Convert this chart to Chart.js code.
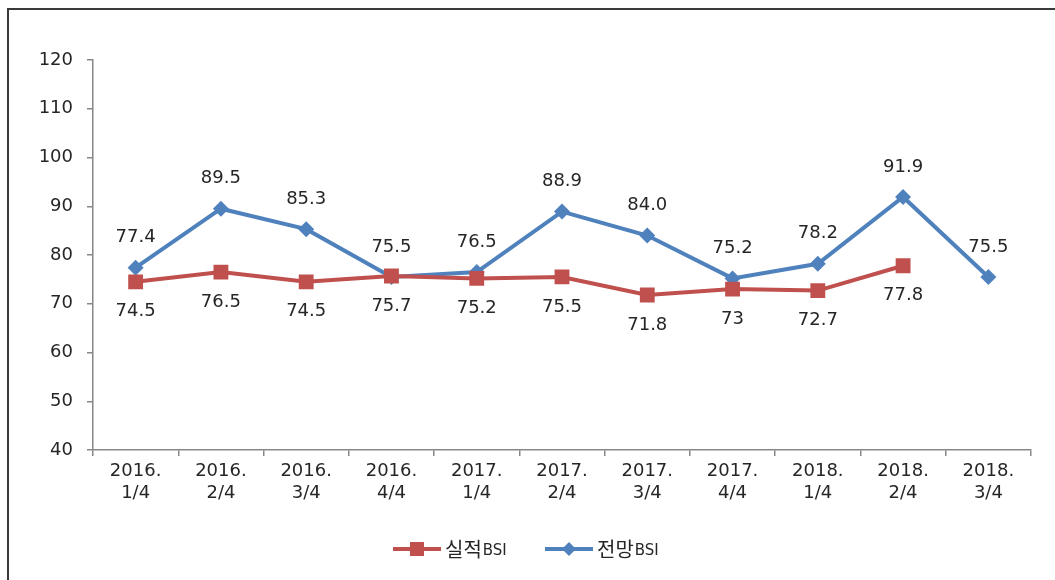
<!DOCTYPE html>
<html><head><meta charset="utf-8">
<script src="https://cdn.jsdelivr.net/npm/chart.js@4"></script>
<style>html,body{margin:0;padding:0;background:#fff;}#wrap{width:1055px;height:580px;position:relative;}</style>
</head><body><div id="wrap"><canvas id="c" width="1055" height="580"></canvas></div>
<script>
const categories = [["2016.","1/4"],["2016.","2/4"],["2016.","3/4"],["2016.","4/4"],["2017.","1/4"],["2017.","2/4"],["2017.","3/4"],["2017.","4/4"],["2018.","1/4"],["2018.","2/4"],["2018.","3/4"]];
const actualBSI = [74.5, 76.5, 74.5, 75.7, 75.2, 75.5, 71.8, 73, 72.7, 77.8, null];
const outlookBSI = [77.4, 89.5, 85.3, 75.5, 76.5, 88.9, 84.0, 75.2, 78.2, 91.9, 75.5];
const seriesNames = ["실적BSI", "전망BSI"];
const yTicks = {min: 40, max: 120, step: 10};

const RED = '#C0504D', BLUE = '#4F81BD', TXT = '#262626', AX = '#878787';
const FONT = '"DejaVu Sans", sans-serif';

const frame = {
  id: 'frame',
  beforeDraw(chart) {
    const ctx = chart.ctx;
    ctx.save();
    ctx.strokeStyle = '#3a3a3a';
    ctx.lineWidth = 2;
    ctx.strokeRect(8, 9, 1060, 590);
    ctx.restore();
  }
};

const labels = {
  id: 'labels',
  afterDatasetsDraw(chart) {
    const ctx = chart.ctx;
    ctx.save();
    ctx.font = '18px ' + FONT;
    ctx.fillStyle = TXT;
    ctx.textAlign = 'center';
    ctx.textBaseline = 'middle';
    chart.data.datasets.forEach((ds, di) => {
      const meta = chart.getDatasetMeta(di);
      meta.data.forEach((pt, i) => {
        const v = ds.data[i];
        if (v === null || v === undefined) return;
        const txt = di === 1 ? v.toFixed(1) : String(v);
        const dy = di === 1 ? -30 : 30;
        ctx.fillText(txt, pt.x, pt.y + dy);
      });
    });
    ctx.restore();
  }
};

const legendP = {
  id: 'legendP',
  afterDraw(chart) {
    const ctx = chart.ctx;
    const y = 549;
    const items = [
      {x: 393, color: RED, name: seriesNames[0], shape: 'sq'},
      {x: 545, color: BLUE, name: seriesNames[1], shape: 'dm'}
    ];
    ctx.save();
    items.forEach(it => {
      ctx.strokeStyle = it.color;
      ctx.lineWidth = 4;
      ctx.beginPath();
      ctx.moveTo(it.x, y); ctx.lineTo(it.x + 48, y); ctx.stroke();
      ctx.fillStyle = it.color;
      const cx = it.x + 24;
      if (it.shape === 'sq') {
        ctx.fillRect(cx - 7, y - 7, 14, 14);
      } else {
        ctx.beginPath();
        ctx.moveTo(cx, y - 7); ctx.lineTo(cx + 7, y); ctx.lineTo(cx, y + 7); ctx.lineTo(cx - 7, y); ctx.closePath(); ctx.fill();
      }
      ctx.fillStyle = TXT;
      ctx.textBaseline = 'middle';
      ctx.textAlign = 'left';
      const kor = it.name.replace('BSI', '');
      ctx.font = '20px "Noto Sans CJK KR", sans-serif';
      ctx.fillText(kor, it.x + 52, y);
      const w = ctx.measureText(kor).width;
      ctx.font = '15px ' + FONT;
      ctx.fillText('BSI', it.x + 52 + w + 1, y + 2);
    });
    ctx.restore();
  }
};

new Chart(document.getElementById('c'), {
  type: 'line',
  data: {
    labels: categories,
    datasets: [
      {label: seriesNames[0], data: actualBSI, borderColor: RED, backgroundColor: RED, borderWidth: 4,
       pointStyle: 'rect', pointRadius: 10.5, pointHoverRadius: 10.5, pointBorderWidth: 0, tension: 0, spanGaps: false},
      {label: seriesNames[1], data: outlookBSI, borderColor: BLUE, backgroundColor: BLUE, borderWidth: 4,
       pointStyle: 'rectRot', pointRadius: 8, pointHoverRadius: 8, pointBorderWidth: 0, tension: 0}
    ]
  },
  options: {
    responsive: false,
    animation: false,
    events: [],
    layout: {padding: {left: 0, top: 60, right: 24, bottom: 60}},
    plugins: {legend: {display: false}, tooltip: {enabled: false}},
    scales: {
      x: {
        offset: true,
        grid: {display: true, drawOnChartArea: false, drawTicks: true, tickLength: 6, offset: true, color: AX, lineWidth: 1.5},
        border: {display: true, color: AX, width: 1.5},
        ticks: {color: TXT, font: {family: FONT, size: 18}, padding: 5, maxRotation: 0, autoSkip: false},
        afterFit(s) { s.height = 70; }
      },
      y: {
        min: yTicks.min, max: yTicks.max,
        grid: {display: true, drawOnChartArea: false, drawTicks: true, tickLength: 6, color: AX, lineWidth: 1.5},
        border: {display: true, color: AX, width: 1.5},
        ticks: {stepSize: yTicks.step, color: TXT, font: {family: FONT, size: 18}, padding: 14},
        afterFit(s) { s.width = 93; }
      }
    }
  },
  plugins: [frame, labels, legendP]
});
</script></body></html>
